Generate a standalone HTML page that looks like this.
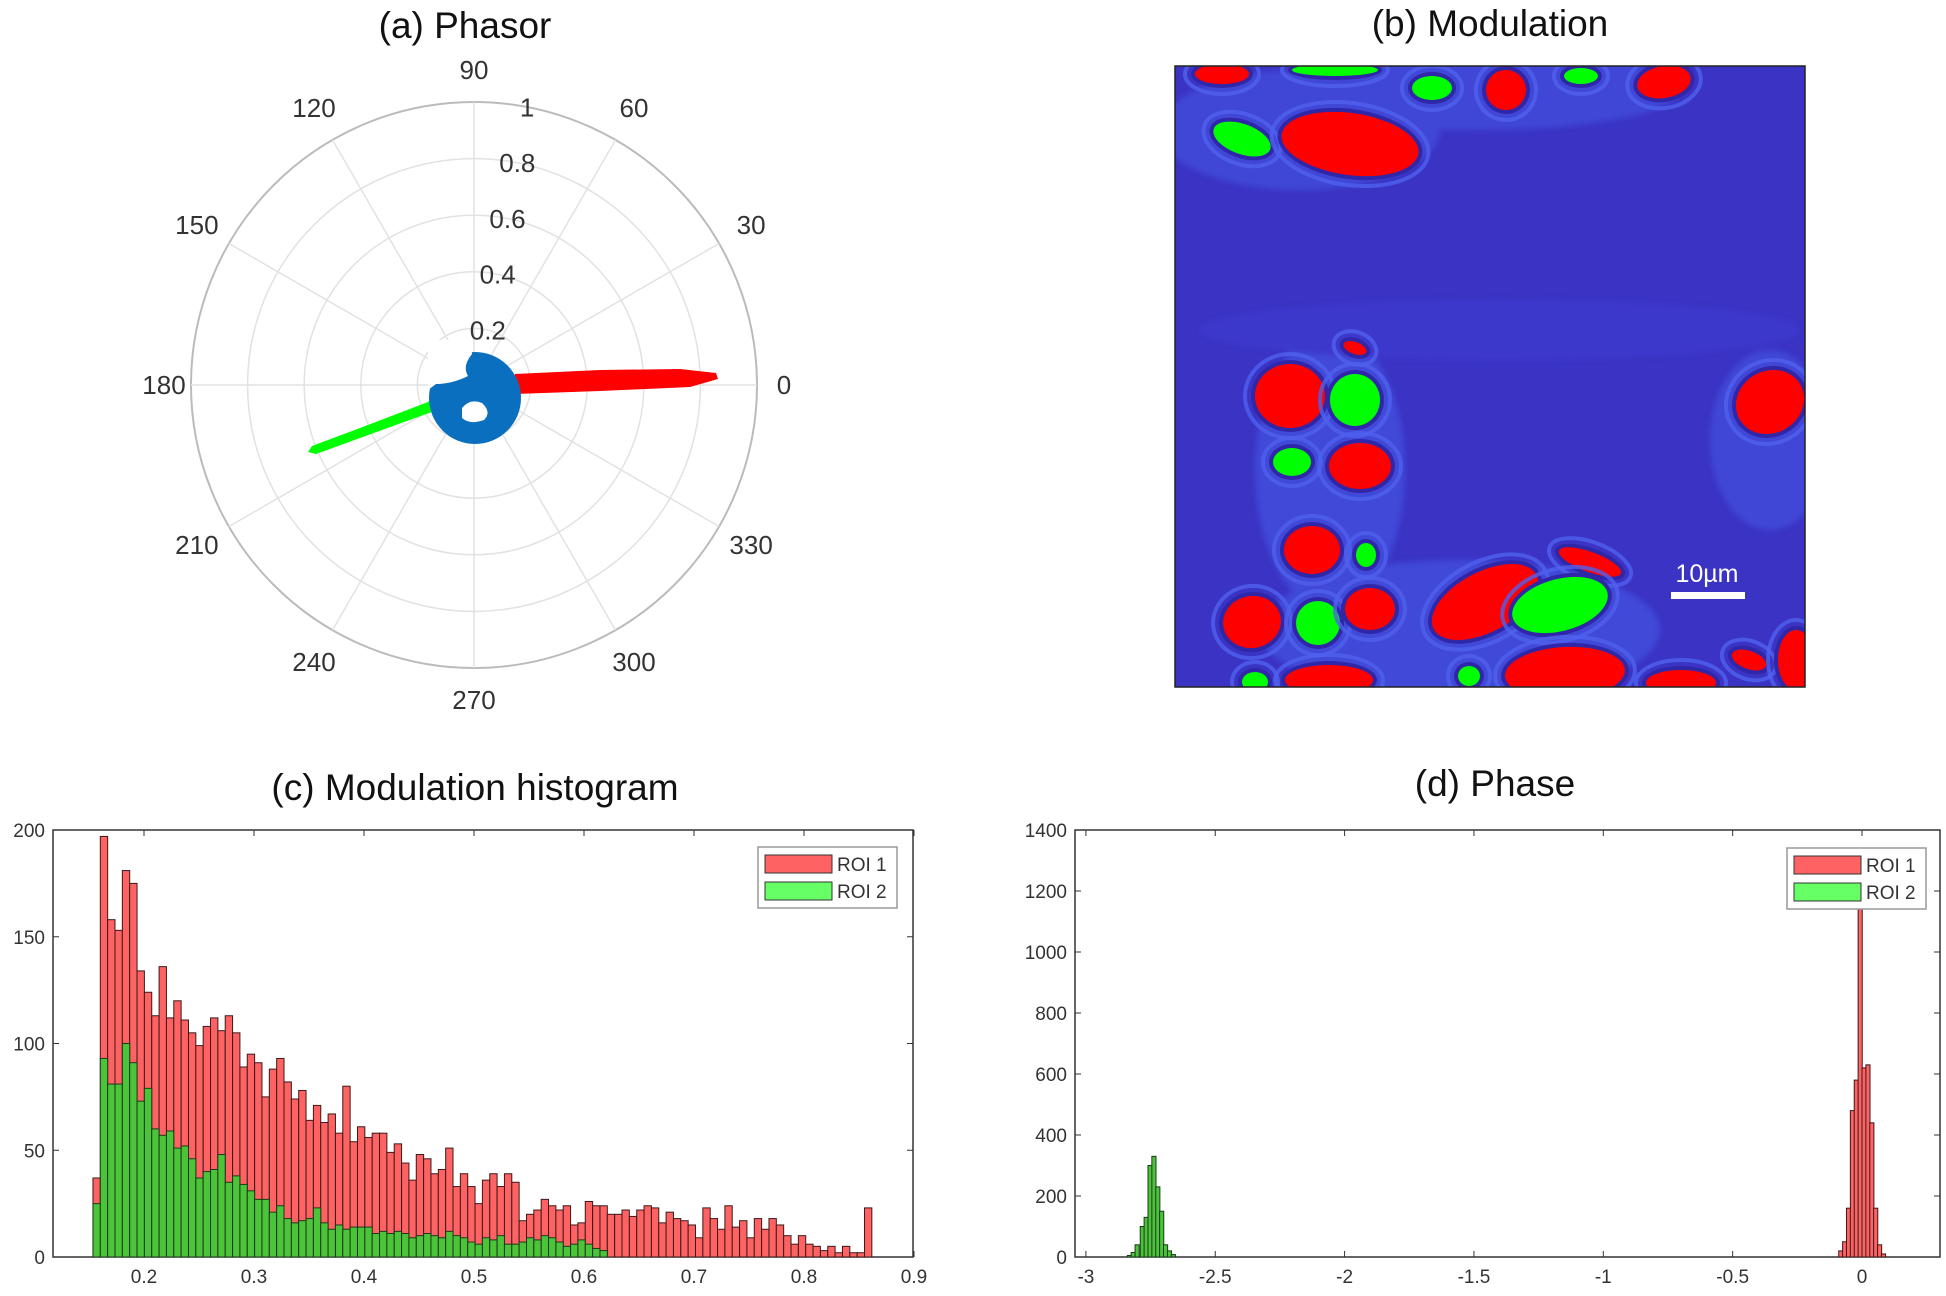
<!DOCTYPE html>
<html><head><meta charset="utf-8">
<style>
html,body{margin:0;padding:0;background:#fff;}
svg{display:block}
text{font-family:"Liberation Sans",sans-serif;}
</style></head>
<body>
<svg id="s" width="1946" height="1296" viewBox="0 0 1946 1296" xmlns="http://www.w3.org/2000/svg">
<defs>
<filter id="bl" x="-20%" y="-20%" width="140%" height="140%"><feGaussianBlur stdDeviation="3"/></filter>
<clipPath id="cb"><rect x="1175" y="66" width="630" height="621"/></clipPath>
</defs>
<!-- titles -->
<text x="465" y="38" font-size="37" text-anchor="middle" fill="#111">(a) Phasor</text>
<text x="1490" y="36" font-size="37" text-anchor="middle" fill="#111">(b) Modulation</text>
<text x="475" y="800" font-size="37" text-anchor="middle" fill="#111">(c) Modulation histogram</text>
<text x="1495" y="796" font-size="37" text-anchor="middle" fill="#111">(d) Phase</text>
<g id="polar"></g>
<g id="mod" clip-path="url(#cb)"></g>
<rect x="1175" y="66" width="630" height="621" fill="none" stroke="#222" stroke-width="1.5"/>
<text x="1707" y="582" font-size="25" text-anchor="middle" fill="#fff">10µm</text>
<rect x="1671" y="592" width="74" height="7" fill="#fff"/>
<g id="hc"></g>
<g id="hd"></g>
</svg>
<script>
const NS="http://www.w3.org/2000/svg";
function el(p,t,a,txt){const e=document.createElementNS(NS,t);for(const k in a)e.setAttribute(k,a[k]);if(txt!==undefined)e.textContent=txt;p.appendChild(e);return e;}
// ---------- polar ----------
const P=document.getElementById('polar');const cx=474,cy=385,R=283;
for(let i=1;i<=5;i++)el(P,'circle',{cx,cy,r:R*i/5,fill:'none',stroke:i==5?'#bbb':'#e2e2e2','stroke-width':i==5?2:1.5});
for(let a=0;a<180;a+=30){const r=a*Math.PI/180;el(P,'line',{x1:cx-R*Math.cos(r),y1:cy+R*Math.sin(r),x2:cx+R*Math.cos(r),y2:cy-R*Math.sin(r),stroke:'#e2e2e2','stroke-width':1.5});}
for(let a=0;a<360;a+=30){const r=a*Math.PI/180;const d=(a%180==0)?310:(a%90==0?315:320);el(P,'text',{x:cx+d*Math.cos(r),y:cy-d*Math.sin(r)+9,'font-size':26,'text-anchor':'middle',fill:'#333'},a);}
['0','0.2','0.4','0.6','0.8','1'].forEach((t,i)=>{const r=R*i/5,an=80*Math.PI/180;el(P,'text',{x:cx+r*Math.cos(an)+(i==0?-5:4),y:cy-r*Math.sin(an)+10,'font-size':26,'text-anchor':'middle',fill:'#333'},t);});
// red band
el(P,'path',{d:'M515,374 L600,370 L680,369 L716,373 L718,379 L690,387 L600,391 L515,394 Z',fill:'#ff0000'});
// green band
el(P,'path',{d:'M436,393 L428,402 L360,428 L312,446 L308,452 L316,454 L360,438 L440,409 Z',fill:'#00ff00'});
// blue blob
el(P,'circle',{cx:475,cy:398,r:46,fill:'#0b6fbf'});
el(P,'path',{d:'M428,390 L428,340 L470,340 L472,354 Q462,366 468,376 Q452,384 436,384 Z',fill:'#fff'});
el(P,'path',{d:'M462,408 Q470,398 482,403 Q492,412 484,420 Q470,425 462,418 Z',fill:'#fff'});
// ---------- modulation ----------
const M=document.getElementById('mod');
el(M,'rect',{x:1175,y:66,width:630,height:621,fill:'#3a33c4'});
const g=el(M,'g',{filter:'url(#bl)'});
el(g,'ellipse',{cx:1300,cy:130,rx:140,ry:60,fill:'#4046d6'});
el(g,'ellipse',{cx:1330,cy:470,rx:75,ry:140,fill:'#4148d8'});
el(g,'ellipse',{cx:1460,cy:630,rx:200,ry:70,fill:'#4148d8'});
el(g,'ellipse',{cx:1770,cy:440,rx:60,ry:90,fill:'#4046d6'});
el(g,'ellipse',{cx:1480,cy:90,rx:200,ry:40,fill:'#4046d6'});
el(g,'ellipse',{cx:1500,cy:330,rx:300,ry:30,fill:'#3d39cc'});
const blobs=[
['r',1222,74,27,10,0],['g',1335,70,43,6,0],['g',1432,88,20,12,0],['r',1506,90,20,20,-30],['g',1581,76,17,8,0],['r',1664,82,27,16,-10],
['g',1242,139,30,15,20],['r',1350,144,69,31,8],['r',1355,348,12,6,20],['r',1290,396,35,32,0],['g',1355,400,25,26,0],
['g',1292,462,19,14,0],['r',1360,466,31,23,0],['r',1770,402,35,31,-30],['r',1312,550,28,24,0],['g',1366,555,10,12,0],
['r',1252,622,29,26,-10],['g',1318,623,22,22,0],['r',1370,609,25,21,0],['r',1485,602,58,30,-28],['r',1590,562,33,10,20],
['g',1560,605,49,26,-15],['r',1329,680,44,15,0],['g',1255,682,13,10,0],['g',1469,676,11,10,0],['r',1565,673,60,26,-3],
['r',1681,683,35,13,0],['r',1749,660,18,9,20],['r',1796,660,18,30,0]];
blobs.forEach(b=>{const t=`rotate(${b[5]} ${b[1]} ${b[2]})`;
el(M,'ellipse',{cx:b[1],cy:b[2],rx:b[3]+10,ry:b[4]+10,fill:'none',stroke:'#5060ee','stroke-width':4,transform:t,opacity:.8});
el(M,'ellipse',{cx:b[1],cy:b[2],rx:b[3]+4,ry:b[4]+4,fill:'#3026a8',transform:t});
el(M,'ellipse',{cx:b[1],cy:b[2],rx:b[3],ry:b[4],fill:b[0]=='r'?'#ff0000':'#00ff00',transform:t});});
// ---------- histogram axes helper ----------
function axes(G,x0,x1,y0,y1,xt,yt,fx,fy){
 el(G,'rect',{x:x0,y:y0,width:x1-x0,height:y1-y0,fill:'#fff',stroke:'#333','stroke-width':1.5});
 xt.forEach(v=>{const x=fx(v);el(G,'line',{x1:x,y1:y1,x2:x,y2:y1-6,stroke:'#333'});el(G,'line',{x1:x,y1:y0,x2:x,y2:y0+6,stroke:'#333'});el(G,'text',{x:x,y:y1+26,'font-size':19,'text-anchor':'middle',fill:'#333'},v);});
 yt.forEach(v=>{const y=fy(v);el(G,'line',{x1:x0,y1:y,x2:x0+6,y2:y,stroke:'#333'});el(G,'line',{x1:x1,y1:y,x2:x1-6,y2:y,stroke:'#333'});el(G,'text',{x:x0-8,y:y+7,'font-size':19,'text-anchor':'end',fill:'#333'},v);});
}
function legend(G,x,y){
 el(G,'rect',{x:x,y:y,width:139,height:61,fill:'#fff',stroke:'#999','stroke-width':1.5});
 el(G,'rect',{x:x+7,y:y+8,width:67,height:18,fill:'#ff6262',stroke:'#333'});
 el(G,'rect',{x:x+7,y:y+35,width:67,height:18,fill:'#66ff66',stroke:'#333'});
 el(G,'text',{x:x+79,y:y+24,'font-size':19,fill:'#333'},'ROI 1');
 el(G,'text',{x:x+79,y:y+51,'font-size':19,fill:'#333'},'ROI 2');
}
// ---------- (c) ----------
const C=document.getElementById('hc');
const cfx=v=>144+(v-0.2)*1100, cfy=v=>1257-v*(427/200);
axes(C,53,913,830,1257,[0.2,0.3,0.4,0.5,0.6,0.7,0.8,0.9],[0,50,100,150,200],cfx,cfy);
const red=[37,197,158,153,181,175,134,124,113,136,112,120,111,105,99,108,112,106,113,105,89,95,91,75,88,93,82,74,78,64,71,63,67,58,80,54,61,56,58,58,49,53,44,36,48,46,39,41,51,33,39,33,25,36,39,33,39,35,17,20,22,27,24,22,24,15,16,26,24,24,20,20,22,19,22,24,23,16,21,18,17,15,9,23,18,13,24,14,17,9,18,13,18,15,10,6,10,6,5,3,5,2,5,2,2,23];
const grn=[25,93,81,81,100,91,73,79,60,57,59,51,52,46,37,40,41,48,35,38,34,31,27,27,21,24,18,16,17,18,23,16,13,15,13,14,14,14,11,12,11,12,11,9,10,11,10,9,12,10,9,7,6,9,8,10,6,6,7,9,8,10,9,7,5,6,8,6,4,3];
const bw=0.00668,bs=0.1536;
red.forEach((h,i)=>{const x=cfx(bs+i*bw),w=bw*1100;el(C,'rect',{x:x,y:cfy(h),width:w,height:h*427/200,fill:'#ff6262',stroke:'#3a1a1a','stroke-width':1});});
grn.forEach((h,i)=>{const x=cfx(bs+i*bw),w=bw*1100;el(C,'rect',{x:x,y:cfy(h),width:w,height:h*427/200,fill:'#4cc43a',stroke:'#1a3a1a','stroke-width':1});});
legend(C,758,847);
// ---------- (d) ----------
const D=document.getElementById('hd');
const dfx=v=>1862+v*258.7, dfy=v=>1257-v*(427/1400);
axes(D,1075,1940,830,1257,[-3,-2.5,-2,-1.5,-1,-0.5,0],[0,200,400,600,800,1000,1200,1400],dfx,dfy);
const gw=0.016;
const gd=[[-2.84,5],[-2.825,15],[-2.81,40],[-2.79,100],[-2.775,130],[-2.76,300],[-2.745,330],[-2.73,230],[-2.715,150],[-2.70,40],[-2.685,20],[-2.67,8]];
gd.forEach(b=>el(D,'rect',{x:dfx(b[0]),y:dfy(b[1]),width:gw*258.7,height:b[1]*427/1400,fill:'#4cc43a',stroke:'#1a3a1a'}));
const rd=[[-0.09,20],[-0.075,50],[-0.06,160],[-0.045,480],[-0.03,580],[-0.015,1250],[0.0,620],[0.015,630],[0.03,440],[0.045,160],[0.06,40],[0.075,10]];
rd.forEach(b=>el(D,'rect',{x:dfx(b[0]),y:dfy(b[1]),width:gw*258.7,height:b[1]*427/1400,fill:'#ff6262',stroke:'#3a1a1a'}));
legend(D,1787,848);
</script>
</body></html>
